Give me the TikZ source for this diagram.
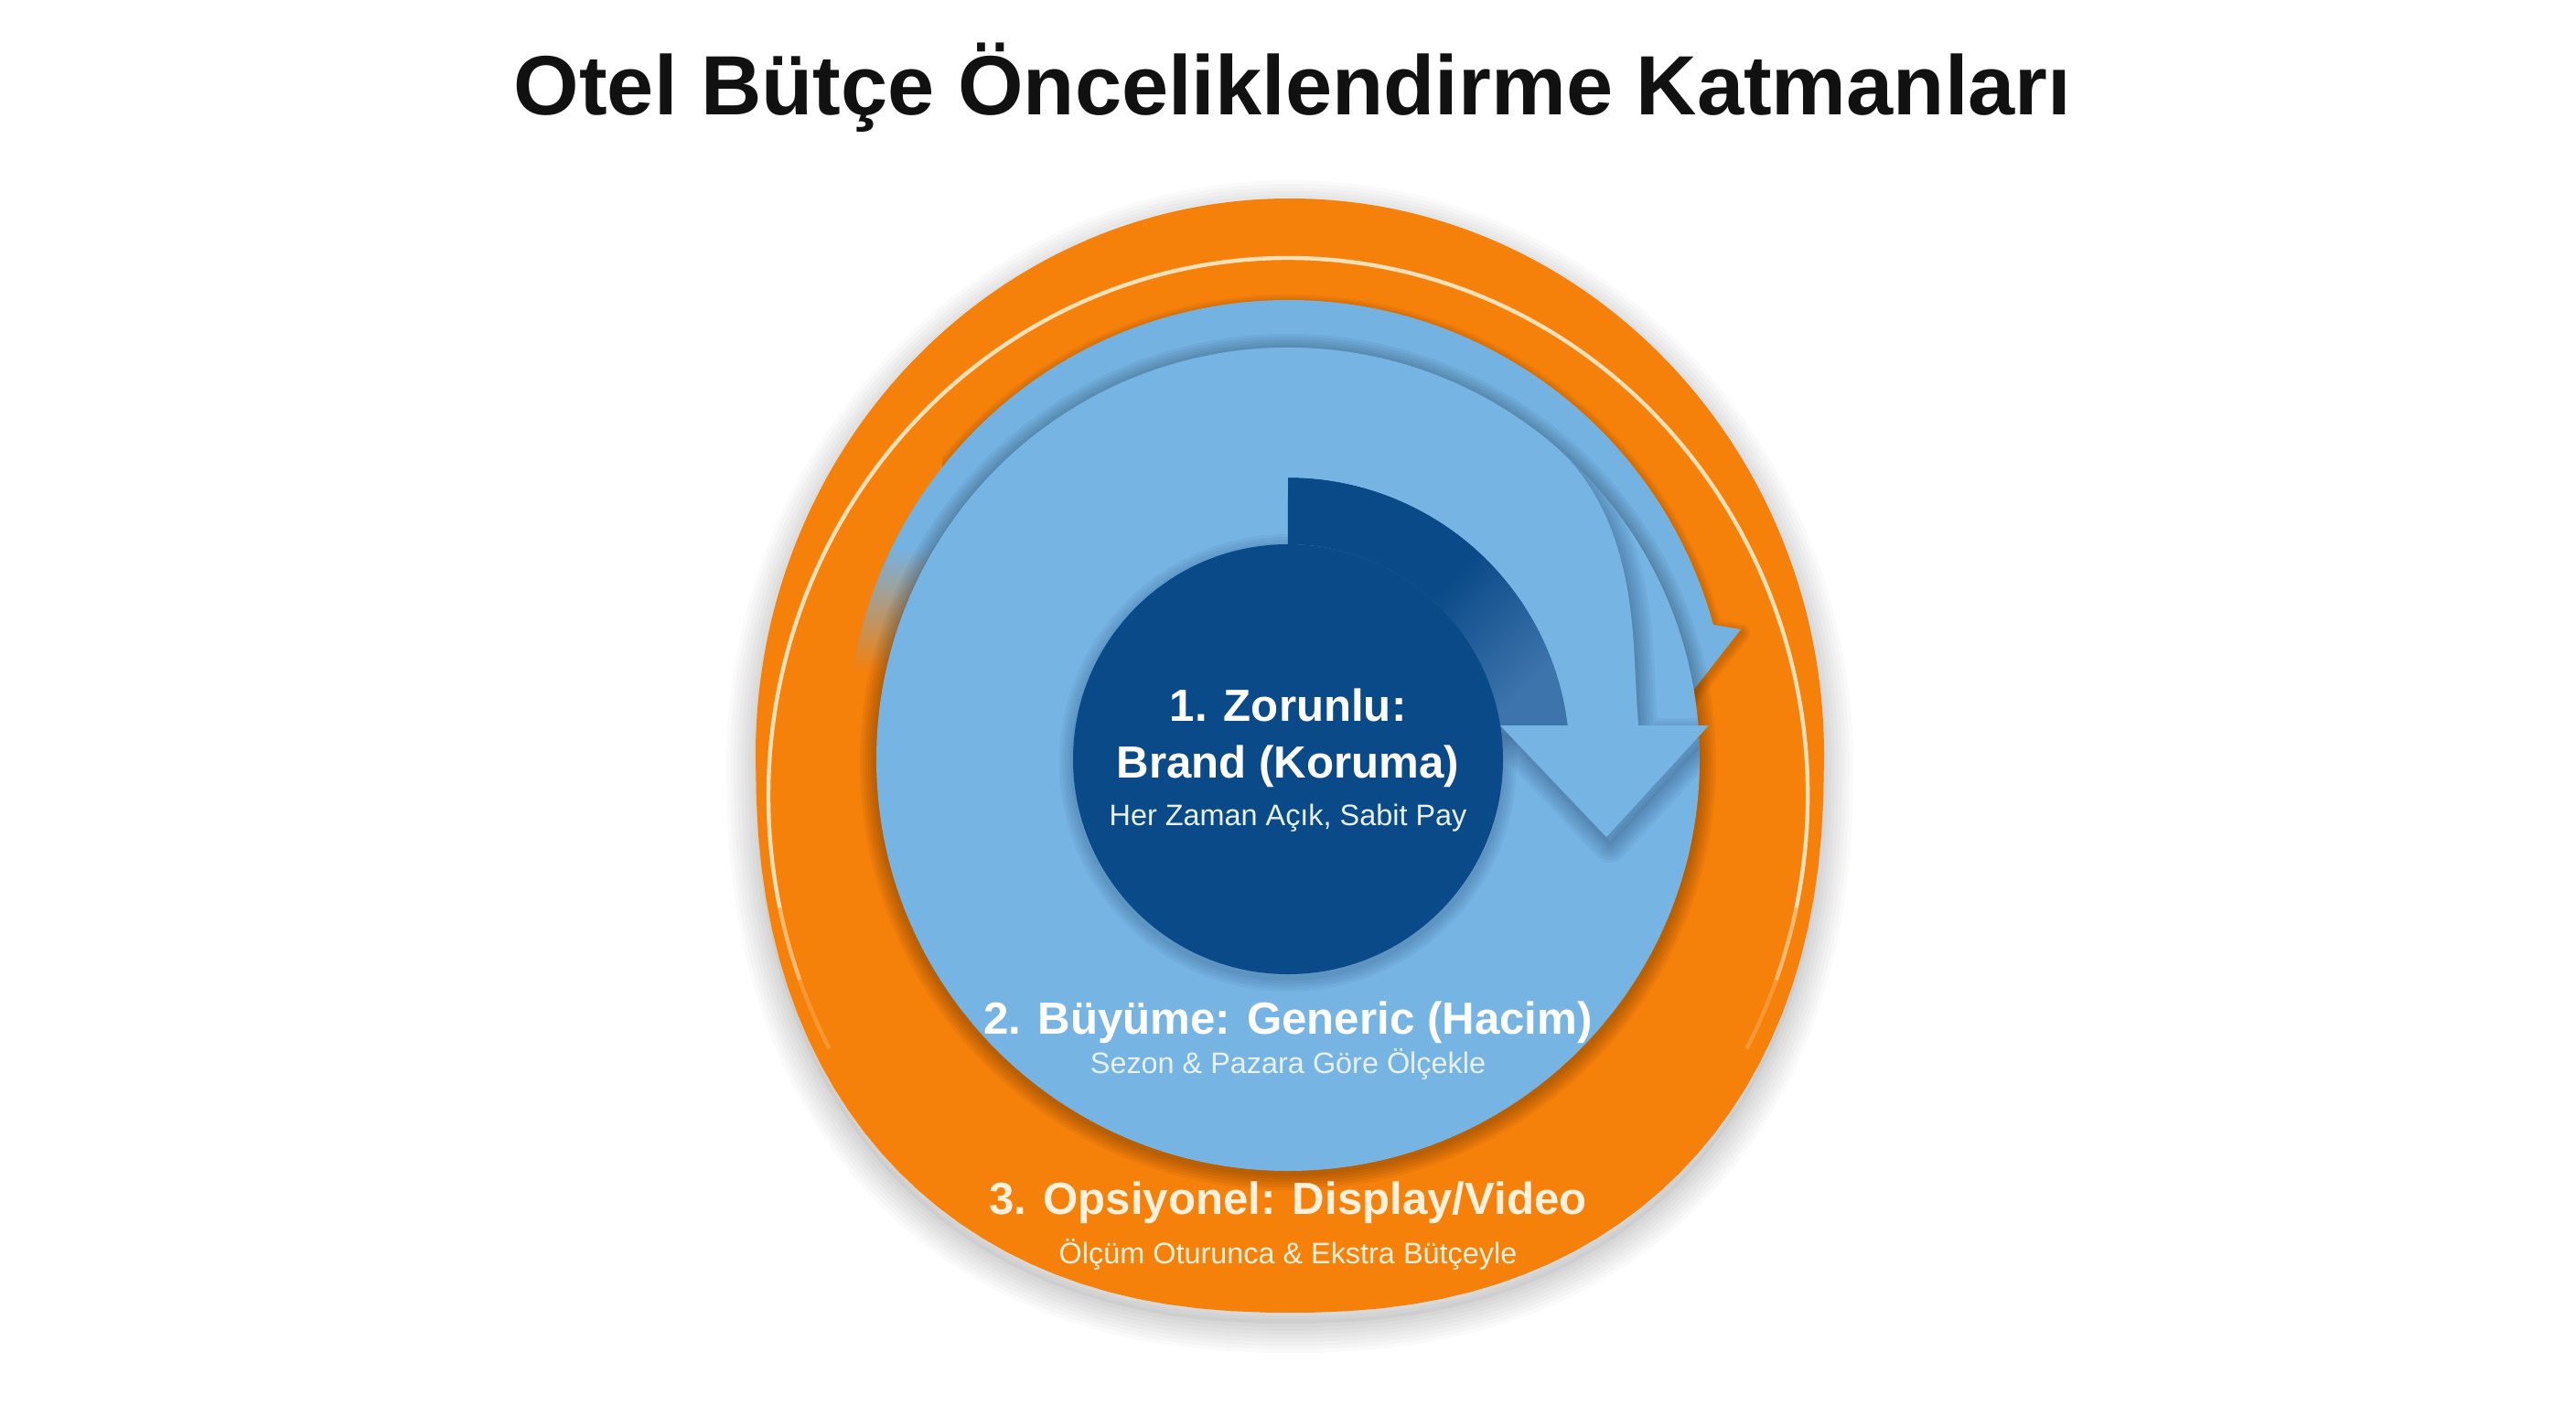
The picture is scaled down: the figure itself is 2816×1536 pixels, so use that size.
\documentclass[tikz,border=0pt]{standalone}
\usepackage{fontspec}
\setmainfont{Liberation Sans}
\usetikzlibrary{calc}
\definecolor{orangeM}{RGB}{245,128,10}
\definecolor{diskblue}{RGB}{118,180,228}
\definecolor{bandblue}{RGB}{116,178,226}
\definecolor{darkblue}{RGB}{10,74,136}
\definecolor{midblue}{RGB}{62,116,172}
\definecolor{shadowblue}{RGB}{20,50,90}
\definecolor{creamtext}{RGB}{255,241,222}
\definecolor{palebluetext}{RGB}{232,241,250}
\definecolor{creamline}{RGB}{255,224,184}
\definecolor{titleblack}{RGB}{17,17,17}
\pgfdeclareverticalshading{tailshade}{100bp}{color(0bp)=(orangeM); color(47bp)=(orangeM); color(66bp)=(bandblue); color(100bp)=(bandblue)}
\begin{document}
\begin{tikzpicture}[x=0.25pt, y=0.25pt,
  declare function={sr(\t)=385+65*((\t-5.5)/44.5)^2*(3-2*((\t-5.5)/44.5));
                    sx(\t)=cos(\t)*(abs(cos(\t))+0.001)^(-0.13);
                    sy(\t)=sin(\t)*(abs(sin(\t))+0.001)^(-0.13);},
  titlefont/.style={font=\bfseries\fontsize{23pt}{27pt}\selectfont, text=titleblack, inner sep=0pt, anchor=base},
  mainlabel/.style={font=\bfseries\fontsize{12.3pt}{15pt}\selectfont, inner sep=0pt, anchor=base},
  sublabel/.style={font=\fontsize{8.1pt}{10pt}\selectfont, inner sep=0pt, anchor=base},
  ringline/.style={creamline, line width=1.1pt},
]
\fill[white] (0,0) rectangle (2816,1536);
\useasboundingbox (0,0) rectangle (2816,1536);

\def\OrangePath{(1994,710) arc[start angle=0, end angle=180, x radius=584, y radius=609] -- plot[domain=180:360, samples=60, variable=\t] ({1410+584*sx(\t)}, {710+609*sy(\t)}) -- cycle}
\def\BandPath{(1408,726) -- ++(147:482) arc[start angle=147, end angle=15.3, radius=482] -- (1903,848) -- (1843,771) -- cycle}
\def\DiskPath{(1408,706) circle[radius=450]}
\def\ArrowPath{(1329.9,1149.2) arc[start angle=100, end angle=50, radius=450] -- plot[domain=50:5.5, samples=40, variable=\t] ({1408+sr(\t)*cos(\t)}, {706+sr(\t)*sin(\t)}) -- (1868,743) -- (1756,621) -- (1640,743) -- (1713.8,743) arc[start angle=6.9, end angle=100, radius=308] -- cycle}
\def\DarkBandPath{(1408,1014) arc[start angle=90, end angle=6.9, radius=308] -- (1640,743) arc[start angle=9.06, end angle=90, radius=235] -- cycle}
\def\DarkCirclePath{(1408,706) circle[radius=235]}

% outer layer: orange ellipse with soft shadow
\foreach \w in {2,4,...,16} {\draw[black, opacity=0.02, line width=\w pt, line join=round, yshift=-3pt] \OrangePath;}
\fill[black, opacity=0.04, yshift=-3pt] \OrangePath;
\fill[orangeM] \OrangePath;
\begin{scope}
  \clip \OrangePath;
  \draw[ringline] (1408,666) ++(-12:568 and 588) arc[start angle=-12, end angle=192, x radius=568, y radius=588];
  \draw[ringline, opacity=0.6] (1408,666) ++(-12:568 and 588) arc[start angle=-12, end angle=-20, x radius=568, y radius=588];
  \draw[ringline, opacity=0.6] (1408,666) ++(192:568 and 588) arc[start angle=192, end angle=200, x radius=568, y radius=588];
  \draw[ringline, opacity=0.25] (1408,666) ++(-20:568 and 588) arc[start angle=-20, end angle=-28, x radius=568, y radius=588];
  \draw[ringline, opacity=0.25] (1408,666) ++(200:568 and 588) arc[start angle=200, end angle=208, x radius=568, y radius=588];
\end{scope}

% outer light blue band arrow
\begin{scope}
  \clip (1030,0) rectangle (2816,1536);
  \foreach \w in {1,2,...,5} {\draw[black, opacity=0.035, line width=\w pt, line join=round, yshift=-1pt] \BandPath;}
\end{scope}
\shade[shading=tailshade] (1408,726) -- ++(145:482) arc[start angle=145, end angle=190, radius=482] -- cycle;
\fill[bandblue] \BandPath;

% middle layer: inner light blue disk
\foreach \w in {1.5,3,...,9} {\draw[black, opacity=0.045, line width=\w pt, yshift=-0.75pt] \DiskPath;}
\fill[diskblue] \DiskPath;

% shadows on the disk
\begin{scope}
  \clip \DiskPath;
  \clip (1408,706) -- ++(58:520) arc[start angle=58, end angle=-90, radius=520] -- cycle;
  \foreach \w in {1.5,3,...,9} {\draw[shadowblue, opacity=0.05, line width=\w pt, line join=round, xshift=1pt, yshift=-2.5pt] \ArrowPath;}
  \fill[shadowblue, opacity=0.08, xshift=1pt, yshift=-2.5pt] \ArrowPath;
\end{scope}
\foreach \w in {1.5,3,...,7.5} {\draw[shadowblue, opacity=0.05, line width=\w pt, yshift=-1pt] \DarkCirclePath;}

% dark arrow body and light arrow
\shade[top color=darkblue, bottom color=midblue, middle color=darkblue, shading angle=45] \DarkBandPath;
\fill[diskblue] \ArrowPath;

% inner layer: dark circle
\fill[darkblue] \DarkCirclePath;

% texts
\node[titlefont] (title) at (1413,1410) {Otel Bütçe Önceliklendirme Katmanları};
\node[mainlabel, text=white] (l1a) at (1408,748) {1. Zorunlu:};
\node[mainlabel, text=white] (l1b) at (1408,686) {Brand (Koruma)};
\node[sublabel, text=palebluetext] (l1c) at (1408,634) {Her Zaman Açık, Sabit Pay};
\node[mainlabel, text=white] (l2a) at (1408,406) {2. Büyüme: Generic (Hacim)};
\node[sublabel, text=palebluetext] (l2b) at (1408,363) {Sezon \& Pazara Göre Ölçekle};
\node[mainlabel, text=creamtext] (l3a) at (1408,209) {3. Opsiyonel: Display/Video};
\node[sublabel, text=creamtext] (l3b) at (1408,155) {Ölçüm Oturunca \& Ekstra Bütçeyle};
\end{tikzpicture}
\end{document}
